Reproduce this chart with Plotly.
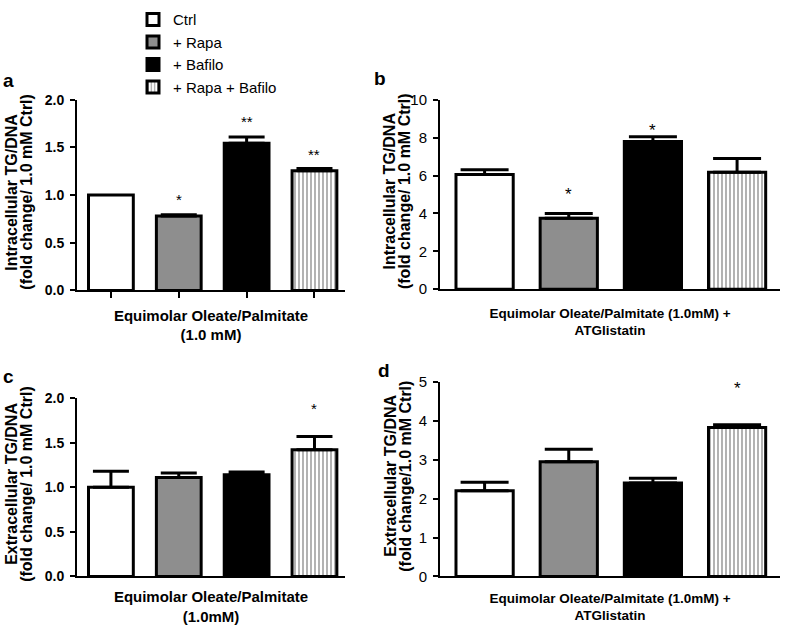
import plotly.graph_objects as go

W, H = 787, 625

groups = ["Ctrl", "+ Rapa", "+ Bafilo", "+ Rapa + Bafilo"]

# Panel a: intracellular, 1.0 mM
a_vals = [1.0, 0.78, 1.545, 1.255]
a_err = [None, 0.015, 0.065, 0.025]
a_sig = ["", "*", "**", "**"]
a_sig_y = [None, 1.0, 1.81, 1.47]

# Panel b: intracellular, + ATGlistatin
b_vals = [6.05, 3.75, 7.8, 6.17]
b_err = [0.25, 0.25, 0.25, 0.73]
b_sig = ["", "*", "*", ""]
b_sig_y = [None, 5.2, 8.6, None]

# Panel c: extracellular, 1.0 mM
c_vals = [1.0, 1.11, 1.14, 1.42]
c_err = [0.18, 0.05, 0.03, 0.15]
c_sig = ["", "", "", "*"]
c_sig_y = [None, None, None, 1.93]

# Panel d: extracellular, + ATGlistatin
d_vals = [2.2, 2.95, 2.4, 3.83]
d_err = [0.22, 0.32, 0.12, 0.07]
d_sig = ["", "", "", "*"]
d_sig_y = [None, None, None, 4.93]

fills = ["white", "#8e8e8e", "black", "white"]
patterns = ["", "", "", "|"]

FONT = "Arial, Liberation Sans, sans-serif"

fig = go.Figure()

panels = [
    dict(ax="", vals=a_vals, err=a_err, sig=a_sig, sig_y=a_sig_y, width=0.66, cap=18, legend=True),
    dict(ax="2", vals=b_vals, err=b_err, sig=b_sig, sig_y=b_sig_y, width=0.68, cap=24, legend=False),
    dict(ax="3", vals=c_vals, err=c_err, sig=c_sig, sig_y=c_sig_y, width=0.66, cap=18, legend=False),
    dict(ax="4", vals=d_vals, err=d_err, sig=d_sig, sig_y=d_sig_y, width=0.68, cap=24, legend=False),
]

annotations = []
for p in panels:
    for i, g in enumerate(groups):
        e = p["err"][i]
        err = dict(type="data", symmetric=False, array=[e], arrayminus=[0],
                   color="black", thickness=3, width=p["cap"], visible=e is not None)
        fig.add_trace(go.Bar(
            x=[i], y=[p["vals"][i]], name=g, legendgroup=g,
            showlegend=p["legend"], width=p["width"],
            marker=dict(color=fills[i], line=dict(color="black", width=3),
                        pattern=dict(shape=patterns[i], fgcolor="black", bgcolor="white",
                                     size=4, solidity=0.3)),
            error_y=err,
            xaxis="x" + p["ax"], yaxis="y" + p["ax"],
        ))
        if p["sig"][i]:
            annotations.append(dict(
                x=i, y=p["sig_y"][i], xref="x" + p["ax"], yref="y" + p["ax"],
                text=p["sig"][i], showarrow=False, yanchor="middle", yshift=-4,
                font=dict(family=FONT, size=17 if p["ax"] in ("2", "4") else 15, color="black"),
            ))

# Panel letters
for txt, x, y in [("a", 8, 74), ("b", 380, 71), ("c", 8, 378), ("d", 384, 372)]:
    annotations.append(dict(x=x / W, y=1 - y / H, xref="paper", yref="paper", text=txt,
                            showarrow=False, xanchor="center", yanchor="middle",
                            font=dict(family=FONT, size=19, color="black", weight="bold")))

xl = [77 / W, 345 / W]
xr = [440 / W, 780 / W]
yt = [1 - 289.3 / H, 1 - 93.3 / H]
yt_b = [1 - 288 / H, 1 - 93.3 / H]
yb = [1 - 583.3 / H, 1 - 400 / H]
yb_d = [1 - 583.3 / H, 1 - 383.3 / H]

# y-axis titles (two lines each, as rotated text)
ytitles = [
    ("Intracellular TG/DNA", "(fold change/ 1.0 mM Ctrl)", 11.5, 26.5, yt),
    ("Intracellular TG/DNA", "(fold change/ 1.0 mM Ctrl)", 390, 404.5, yt_b),
    ("Extracellular TG/DNA", "(fold change/ 1.0 mM Ctrl)", 11.5, 26.5, yb),
    ("Extracellular TG/DNA", "(fold change/1.0 mM Ctrl)", 390.5, 405.5, yb_d),
]
for l1, l2, x1, x2, dom in ytitles:
    yc = (dom[0] + dom[1]) / 2 + 3 / H
    for txt, xx in ((l1, x1), (l2, x2)):
        annotations.append(dict(x=xx / W, y=yc, xref="paper", yref="paper", text=txt,
                                textangle=-90, showarrow=False, xanchor="center", yanchor="middle",
                                font=dict(family=FONT, size=16, color="black", weight="bold")))


def xaxis_cfg(domain, rng, title, ticks, tsize, standoff, anchor):
    return dict(domain=domain, range=rng, showline=True, linecolor="black", linewidth=2,
                showgrid=False, zeroline=False, showticklabels=False, anchor=anchor,
                ticks="outside" if ticks else "", tickvals=[0, 1, 2, 3], ticklen=6, tickwidth=2,
                tickcolor="black",
                title=dict(text=title, standoff=standoff,
                           font=dict(family=FONT, size=tsize, color="black", weight="bold")))


def yaxis_cfg(domain, rng, dtick, fmt, bold, anchor):
    return dict(domain=domain, range=rng, dtick=dtick, tickformat=fmt,
                showline=True, linecolor="black", linewidth=2, showgrid=False, zeroline=False,
                ticks="outside", ticklen=5, tickwidth=2, tickcolor="black", anchor=anchor,
                ticklabelstandoff=3,
                tickfont=dict(family=FONT, size=14 if bold else 15, color="black",
                              weight="bold" if bold else "normal"))


fig.update_layout(
    width=W, height=H,
    margin=dict(l=0, r=0, t=0, b=0),
    paper_bgcolor="white", plot_bgcolor="white",
    barmode="overlay",
    font=dict(family=FONT, color="black"),
    xaxis=xaxis_cfg(xl, [-0.5, 3.45], "Equimolar Oleate/Palmitate<br>(1.0 mM)", True, 15, 13, "y"),
    yaxis=yaxis_cfg(yt, [0, 2], 0.5, ".1f", True, "x"),
    xaxis2=xaxis_cfg(xr, [-0.53, 3.51], "Equimolar Oleate/Palmitate (1.0mM) +<br>ATGlistatin", False, 13.5, 18, "y2"),
    yaxis2=yaxis_cfg(yt_b, [0, 10], 2, "d", False, "x2"),
    xaxis3=xaxis_cfg(xl, [-0.5, 3.45], "Equimolar Oleate/Palmitate<br>(1.0mM)", False, 15, 15, "y3"),
    yaxis3=yaxis_cfg(yb, [0, 2], 0.5, ".1f", True, "x3"),
    xaxis4=xaxis_cfg(xr, [-0.53, 3.51], "Equimolar Oleate/Palmitate (1.0mM) +<br>ATGlistatin", False, 13.5, 16, "y4"),
    yaxis4=yaxis_cfg(yb_d, [0, 5], 1, "d", False, "x4"),
    legend=dict(x=133 / W, y=1 + 6 / H, xanchor="left", yanchor="top", bgcolor="rgba(0,0,0,0)",
                font=dict(family=FONT, size=15, color="black"), traceorder="normal",
                itemclick=False),
    annotations=annotations,
)

fig.write_html("out.html", config={"displayModeBar": False},
               post_script="document.body.style.margin='0';")
